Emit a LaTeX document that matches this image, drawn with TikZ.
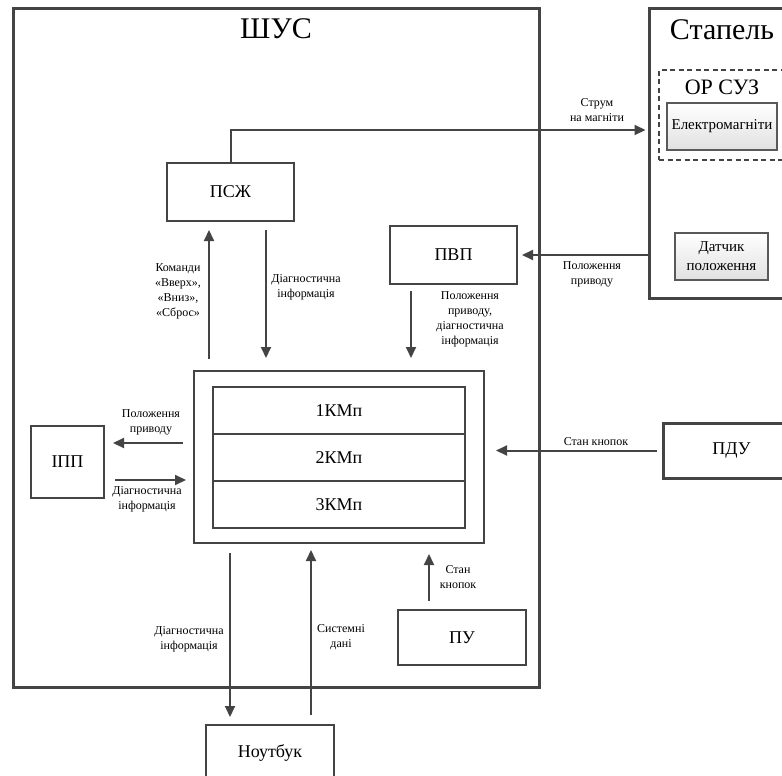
\documentclass[tikz,border=0pt]{standalone}
\usepackage{fontspec}
\setmainfont{Liberation Serif}
\usetikzlibrary{arrows.meta}
\definecolor{linegray}{HTML}{444444}
\begin{document}
\begin{tikzpicture}[x=1pt, y=-1pt,
  every node/.style={align=center, inner sep=0pt},
  frame/.style={draw=linegray, line width=3pt},
  zone/.style={draw=linegray, line width=2.4pt, dash pattern=on 5pt off 3.5pt},
  unit/.style={draw=linegray, line width=2pt, font=\fontsize{18}{22}\selectfont},
  device/.style={draw=black!65, line width=1.5pt, top color=white, bottom color=black!12,
    font=\fontsize{15}{19}\selectfont},
  note/.style={font=\fontsize{12}{15}\selectfont},
  flow/.style={draw=linegray, line width=2pt, -{Triangle[length=11pt,width=10pt]}}]
\useasboundingbox (0,0) rectangle (782,776);
\clip (0,0) rectangle (782,776);

% frames
\node[frame, minimum width=526pt, minimum height=678pt] (shus) at (276,348) {};
\node[font=\fontsize{30}{36}\selectfont] (shustitle) at (276,29) {ШУС};

\node[frame, minimum width=160pt, minimum height=289pt] (stapel) at (729,153.5) {};
\node[font=\fontsize{30}{36}\selectfont] (stapeltitle) at (722,30) {Стапель};

\node[zone, minimum width=150pt, minimum height=90pt] (orsuz) at (734,115) {};
\node[font=\fontsize{22}{26}\selectfont] (orsuztitle) at (722,87) {ОР СУЗ};

\node[device, minimum width=110pt, minimum height=47pt] (magnets) at (722,126.5) {Електромагніти};
\node[device, minimum width=93pt, minimum height=47pt] (sensor) at (721.5,256.5) {Датчик\\положення};

% blocks
\node[unit, minimum width=127pt, minimum height=58pt] (psz) at (230.5,192) {ПСЖ};
\node[unit, minimum width=127pt, minimum height=58pt] (pvp) at (453.5,255) {ПВП};

\node[unit, minimum width=290pt, minimum height=172pt] (kmp) at (339,457) {};
\node[unit, minimum width=252pt, minimum height=47pt] (kmp1) at (339,410.5) {1КМп};
\node[unit, minimum width=252pt, minimum height=47pt] (kmp2) at (339,457.5) {2КМп};
\node[unit, minimum width=252pt, minimum height=47pt] (kmp3) at (339,504.5) {3КМп};

\node[unit, minimum width=73pt, minimum height=72pt] (ipp) at (67.5,462) {ІПП};
\node[unit, line width=3pt, minimum width=137pt, minimum height=55pt] (pdu) at (731.5,450.5) {ПДУ};
\node[unit, minimum width=128pt, minimum height=55pt] (pu) at (462,637.5) {ПУ};
\node[unit, minimum width=128pt, minimum height=55pt] (laptop) at (270,752.5) {Ноутбук};

% connectors
\draw[flow, shorten >=2pt] (psz.north) |- ([yshift=23.5pt]stapel.west);
\draw[flow, shorten >=4pt] (stapel.west |- pvp.east) -- (pvp.east);
\draw[flow, shorten <=6pt, shorten >=12pt] ([xshift=-42.5pt]pvp.south) -- ([xshift=-42.5pt]pvp.south |- kmp.north);

\draw[flow, shorten <=11pt, shorten >=8pt] ([xshift=-21.5pt]psz.south |- kmp.north) -- ([xshift=-21.5pt]psz.south);
\draw[flow, shorten <=8pt, shorten >=12pt] ([xshift=35.5pt]psz.south) -- ([xshift=35.5pt]psz.south |- kmp.north);

\draw[flow, shorten <=10pt, shorten >=8pt] ([yshift=19pt]kmp.west |- ipp.east) -- ([yshift=19pt]ipp.east);
\draw[flow, shorten <=10pt, shorten >=7pt] ([yshift=-18pt]ipp.east) -- ([yshift=-18pt]kmp.west |- ipp.east);

\draw[flow, shorten <=5pt, shorten >=11pt] (pdu.west) -- (pdu.west -| kmp.east);
\draw[flow, shorten <=8pt, shorten >=10pt] ([xshift=-33pt]pu.north) -- ([xshift=-33pt]pu.north |- kmp.south);

\draw[flow, shorten <=9pt, shorten >=7pt] ([xshift=-40pt]laptop.north |- kmp.south) -- ([xshift=-40pt]laptop.north);
\draw[flow, shorten <=9pt, shorten >=6pt] ([xshift=41pt]laptop.north) -- ([xshift=41pt]laptop.north |- kmp.south);

% labels
\node[note] (currentlbl) at (597,110) {Струм\\на магніти};
\node[note] (drivelbl) at (592,274) {Положення\\приводу};
\node[note] (pvplbl) at (470,319) {Положення\\приводу,\\діагностична\\інформація};
\node[note] (cmdlbl) at (178,291) {Команди\\«Вверх»,\\«Вниз»,\\«Сброс»};
\node[note] (pszdiaglbl) at (306,287) {Діагностична\\інформація};
\node[note] (ippdrivelbl) at (151,422) {Положення\\приводу};
\node[note] (ippdiaglbl) at (147,499) {Діагностична\\інформація};
\node[note] (pdulbl) at (596,442) {Стан кнопок};
\node[note] (pulbl) at (458,577) {Стан\\кнопок};
\node[note] (laptopdiaglbl) at (189,639) {Діагностична\\інформація};
\node[note] (syslbl) at (341,637) {Системні\\дані};
\end{tikzpicture}
\end{document}
